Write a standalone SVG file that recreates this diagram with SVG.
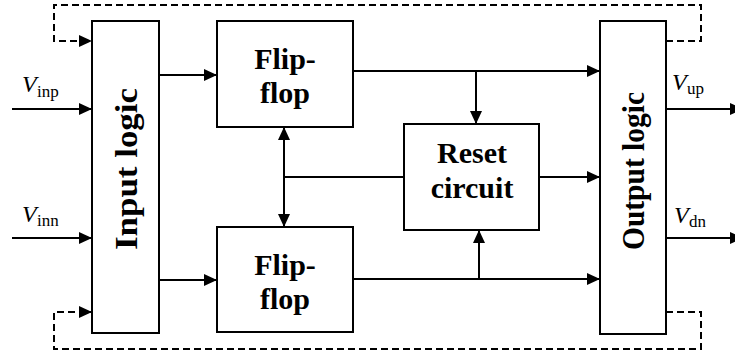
<svg xmlns="http://www.w3.org/2000/svg" width="735" height="352" viewBox="0 0 735 352">
<style>
.box{fill:#fff;stroke:#000;stroke-width:2}
.ln{fill:none;stroke:#000;stroke-width:2}
.dash{fill:none;stroke:#000;stroke-width:2;stroke-dasharray:7 4}
.lbl{font-family:'Liberation Serif','DejaVu Serif',serif;font-weight:bold;font-size:30px;text-anchor:middle;fill:#000}
.vl{font-family:'Liberation Serif','DejaVu Serif',serif;font-weight:bold;font-size:32px;text-anchor:middle;fill:#000}
.sig{font-family:'Liberation Serif','DejaVu Serif',serif;font-size:24px;font-style:italic;fill:#000}
.sub{font-family:'Liberation Serif','DejaVu Serif',serif;font-size:17px;font-style:normal}
</style>
<defs>
<marker id="ah" markerUnits="userSpaceOnUse" markerWidth="14" markerHeight="12" refX="13" refY="6" orient="auto-start-reverse">
<path d="M0,0 L13,6 L0,12 z" fill="#000"/>
</marker>
</defs>

<g id="connectors">
<path class="ln" d="M12,109 H92" marker-end="url(#ah)"/>
<path class="ln" d="M12,238 H92" marker-end="url(#ah)"/>
<path class="ln" d="M159,75 H217" marker-end="url(#ah)"/>
<path class="ln" d="M159,280 H217" marker-end="url(#ah)"/>
<path class="ln" d="M353,71 H600" marker-end="url(#ah)"/>
<path class="ln" d="M476,71 V124" marker-end="url(#ah)"/>
<path class="ln" d="M353,279 H600" marker-end="url(#ah)"/>
<path class="ln" d="M479,279 V230" marker-end="url(#ah)"/>
<path class="ln" d="M404,177 H284"/>
<path class="ln" d="M284,127 V227" marker-start="url(#ah)" marker-end="url(#ah)"/>
<path class="ln" d="M539,177 H600" marker-end="url(#ah)"/>
<path class="ln" d="M666,109 H743" marker-end="url(#ah)"/>
<path class="ln" d="M666,238 H743" marker-end="url(#ah)"/>
<path class="dash" d="M666,41 H701 V5 H54 V41 H92" marker-end="url(#ah)"/>
<path class="dash" d="M666,312 H701 V349 H54 V312 H92" marker-end="url(#ah)"/>
</g>

<g id="input-logic">
<rect class="box" x="92" y="21" width="67" height="312"/>
<text class="vl" font-family="Liberation Serif, serif" transform="translate(137,169) rotate(-90)" textLength="162" lengthAdjust="spacingAndGlyphs">Input logic</text>
</g>

<g id="flipflop-top">
<rect class="box" x="217" y="21" width="136" height="106"/>
<text class="lbl" x="285" y="69">Flip-</text>
<text class="lbl" x="285" y="103">flop</text>
</g>

<g id="flipflop-bottom">
<rect class="box" x="217" y="227" width="136" height="105"/>
<text class="lbl" x="285" y="275">Flip-</text>
<text class="lbl" x="285" y="309">flop</text>
</g>

<g id="reset-circuit">
<rect class="box" x="404" y="124" width="135" height="106"/>
<text class="lbl" x="472" y="163">Reset</text>
<text class="lbl" x="472" y="198">circuit</text>
</g>

<g id="output-logic">
<rect class="box" x="600" y="21" width="66" height="313"/>
<text class="vl" transform="translate(644,171) rotate(-90)" textLength="158" lengthAdjust="spacingAndGlyphs">Output logic</text>
</g>

<g id="signal-labels">
<text class="sig" x="22" y="92">V<tspan class="sub" x="37" y="97">inp</tspan></text>
<text class="sig" x="22" y="222">V<tspan class="sub" x="37" y="226">inn</tspan></text>
<text class="sig" x="672" y="90">V<tspan class="sub" x="687" y="94">up</tspan></text>
<text class="sig" x="674" y="223">V<tspan class="sub" x="689" y="227">dn</tspan></text>
</g>
</svg>
